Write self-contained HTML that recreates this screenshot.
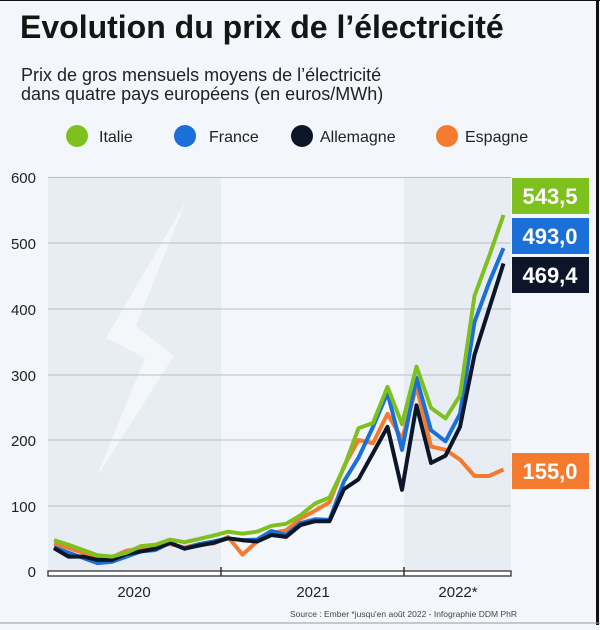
<!DOCTYPE html>
<html><head><meta charset="utf-8"><style>
html,body{margin:0;padding:0;background:#f3f6fa;}
body{width:600px;height:625px;overflow:hidden;font-family:"Liberation Sans",sans-serif;}
</style></head><body>
<svg width="600" height="625" xmlns="http://www.w3.org/2000/svg" font-family="Liberation Sans, sans-serif">
<rect width="600" height="625" fill="#f3f6fa"/>
<rect x="48" y="177" width="173" height="394" fill="#e8edf3"/>
<rect x="404" y="177" width="107" height="394" fill="#e8edf3"/>
<polygon points="186,201 106,338 145,358 96,478 174,356 136,326" fill="#f4f7fa" opacity="0.9"/>
<g stroke="#b8bec6" stroke-width="1">
<line x1="48" x2="511" y1="177.5" y2="177.5"/><line x1="48" x2="511" y1="243" y2="243"/>
<line x1="48" x2="511" y1="309" y2="309"/><line x1="48" x2="511" y1="375" y2="375"/>
<line x1="48" x2="511" y1="440" y2="440"/><line x1="48" x2="511" y1="506" y2="506"/>
</g>
<g font-size="15" fill="#222" text-anchor="end">
<text x="36" y="183">600</text><text x="36" y="249">500</text><text x="36" y="315">400</text>
<text x="36" y="381">300</text><text x="36" y="446">200</text><text x="36" y="512">100</text><text x="36" y="577">0</text>
</g>
<g id="lines" fill="none" stroke-width="4" stroke-linejoin="round"></g>
<rect x="48" y="571" width="463" height="5" fill="#fff" stroke="#333" stroke-width="1.3"/>
<line x1="221" x2="221" y1="567" y2="576" stroke="#333" stroke-width="1.5"/>
<line x1="404" x2="404" y1="567" y2="576" stroke="#333" stroke-width="1.5"/>
<g font-size="15" fill="#222" text-anchor="middle">
<text x="134" y="597">2020</text><text x="313" y="597">2021</text><text x="458" y="597">2022*</text>
</g>
<text x="290" y="617" font-size="8.5" fill="#444">Source : Ember *jusqu'en août 2022 - Infographie DDM PhR</text>
<text x="20" y="38" font-size="32" font-weight="bold" fill="#151515">Evolution du prix de l’électricité</text>
<text x="21" y="81" font-size="18" fill="#222">Prix de gros mensuels moyens de l’électricité</text>
<text x="21" y="100" font-size="18" fill="#222">dans quatre pays européens (en euros/MWh)</text>
<circle cx="77" cy="136" r="11" fill="#7ec11e"/><text x="99" y="142" font-size="16" fill="#222">Italie</text>
<circle cx="185" cy="136" r="11" fill="#1a6fd8"/><text x="209" y="142" font-size="16" fill="#222">France</text>
<circle cx="302" cy="136" r="11" fill="#0c1628"/><text x="320" y="142" font-size="16" fill="#222">Allemagne</text>
<circle cx="447" cy="136" r="11" fill="#f47a30"/><text x="465" y="142" font-size="16" fill="#222">Espagne</text>
<rect x="512" y="178" width="77" height="36" fill="#7ec11e"/><text x="550" y="204" font-size="22" font-weight="bold" fill="#fff" text-anchor="middle">543,5</text>
<rect x="512" y="218" width="77" height="36" fill="#1a6fd8"/><text x="550" y="244" font-size="22" font-weight="bold" fill="#fff" text-anchor="middle">493,0</text>
<rect x="512" y="257" width="77" height="36" fill="#0c1628"/><text x="550" y="283" font-size="22" font-weight="bold" fill="#fff" text-anchor="middle">469,4</text>
<rect x="512" y="453" width="77" height="36" fill="#f47a30"/><text x="550" y="479" font-size="22" font-weight="bold" fill="#fff" text-anchor="middle">155,0</text>
<line x1="597.5" x2="597.5" y1="0" y2="625" stroke="#111" stroke-width="3"/>
<line x1="0" x2="600" y1="0.5" y2="0.5" stroke="#111" stroke-width="1"/>
<line x1="0" x2="600" y1="623" y2="623" stroke="#999" stroke-width="1"/>
</svg>
<script>
var d={
"#f47a30":[41,35,28,20,21,31,34,37,41,36,41,42,52,25,45,58,62,80,92,105,160,200,195,240,201,282,190,185,170,145,145,155],
"#1a6fd8":[36,28,20,12,14,22,30,32,43,34,41,45,50,47,48,61,55,73,79,78,137,173,220,272,185,295,215,198,240,380,440,493],
"#0c1628":[35,22,22,17,17,26,30,34,43,34,39,43,50,47,45,55,52,70,76,76,125,140,180,220,124,253,165,176,220,330,400,469.4],
"#7ec11e":[47,40,32,24,22,28,38,40,48,44,49,54,60,57,60,69,72,85,103,112,158,218,226,281,224,312,249,233,268,420,480,543.5]};
var g=document.getElementById('lines'),s='';
for(var c in d){var p=d[c].map(function(v,i){return (54+i*14.5).toFixed(1)+','+(571-v*0.655).toFixed(1)}).join(' ');
s+='<polyline points="'+p+'" stroke="'+c+'"/>';}
g.innerHTML=s;
</script>
</body></html>
